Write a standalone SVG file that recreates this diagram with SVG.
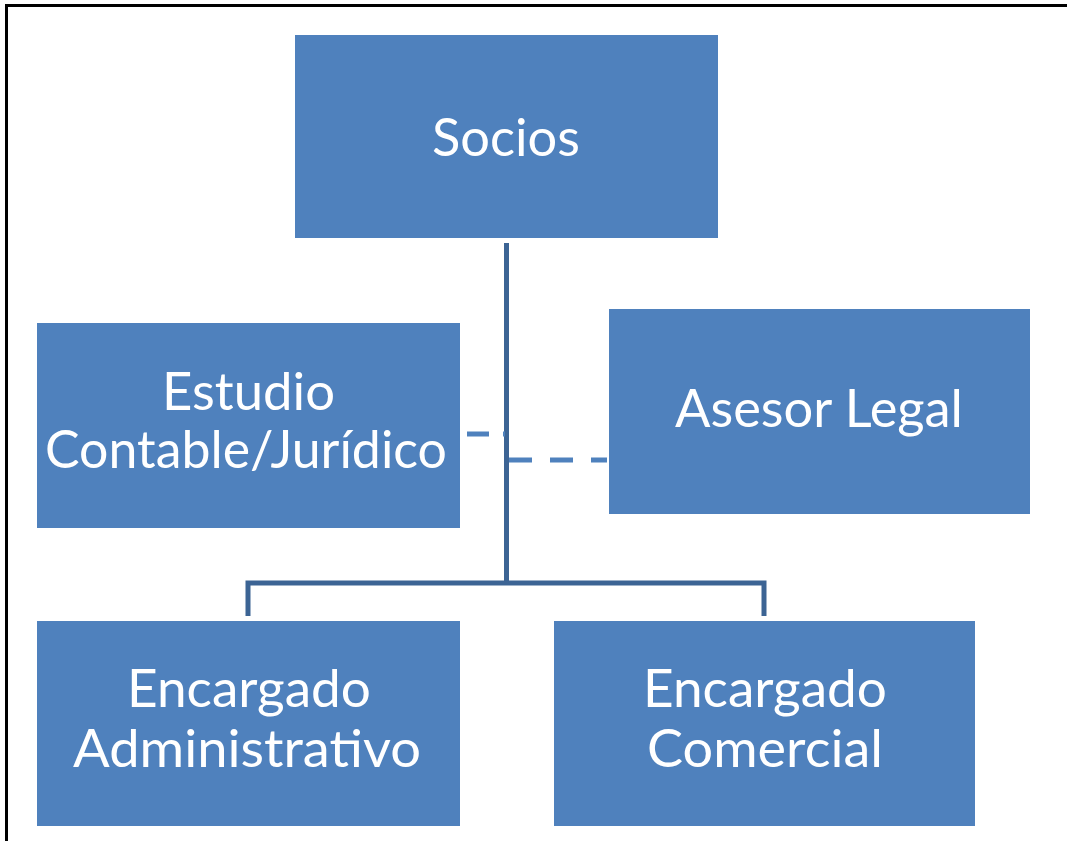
<svg xmlns="http://www.w3.org/2000/svg" width="1067" height="841" viewBox="0 0 1067 841">
<style>
.box{fill:#4F81BD;}
.lbl{fill:#FFFFFF;font-family:Lato,"Open Sans",sans-serif;font-size:53px;text-anchor:middle;}
.conn{fill:none;stroke:#3C6494;stroke-width:5;}
.dash{fill:none;stroke:#4F81BD;stroke-width:5;}
</style>
<rect width="1067" height="841" fill="#FFFFFF"/>
<path d="M6.5,841 V5.5 H1067" fill="none" stroke="#000000" stroke-width="3"/>
<g id="connectors">
<path class="conn" d="M506.5,243 V583"/>
<path class="conn" d="M248,616 V583 H764 V616"/>
<line class="dash" x1="467" y1="434" x2="505" y2="434" stroke-dasharray="22 14"/>
<line class="dash" x1="509" y1="460" x2="607" y2="460" stroke-dasharray="23 18"/>
</g>
<g id="socios">
<rect class="box" x="295" y="35" width="423" height="203"/>
<text class="lbl" x="506" y="156" textLength="148" lengthAdjust="spacingAndGlyphs">Socios</text>
</g>
<g id="estudio">
<rect class="box" x="37" y="323" width="423" height="205"/>
<text class="lbl" x="248.5" y="410" textLength="173" lengthAdjust="spacingAndGlyphs">Estudio</text>
<text class="lbl" x="246" y="468" textLength="402" lengthAdjust="spacingAndGlyphs">Contable/Jurídico</text>
</g>
<g id="asesor">
<rect class="box" x="609" y="309" width="421" height="205"/>
<text class="lbl" x="819" y="427" textLength="288" lengthAdjust="spacingAndGlyphs">Asesor Legal</text>
</g>
<g id="administrativo">
<rect class="box" x="37" y="621" width="423" height="205"/>
<text class="lbl" x="249" y="707" textLength="244" lengthAdjust="spacingAndGlyphs">Encargado</text>
<text class="lbl" x="247" y="767" textLength="348" lengthAdjust="spacingAndGlyphs">Administrativo</text>
</g>
<g id="comercial">
<rect class="box" x="554" y="621" width="421" height="205"/>
<text class="lbl" x="765" y="707" textLength="244" lengthAdjust="spacingAndGlyphs">Encargado</text>
<text class="lbl" x="765" y="767" textLength="236" lengthAdjust="spacingAndGlyphs">Comercial</text>
</g>
</svg>
